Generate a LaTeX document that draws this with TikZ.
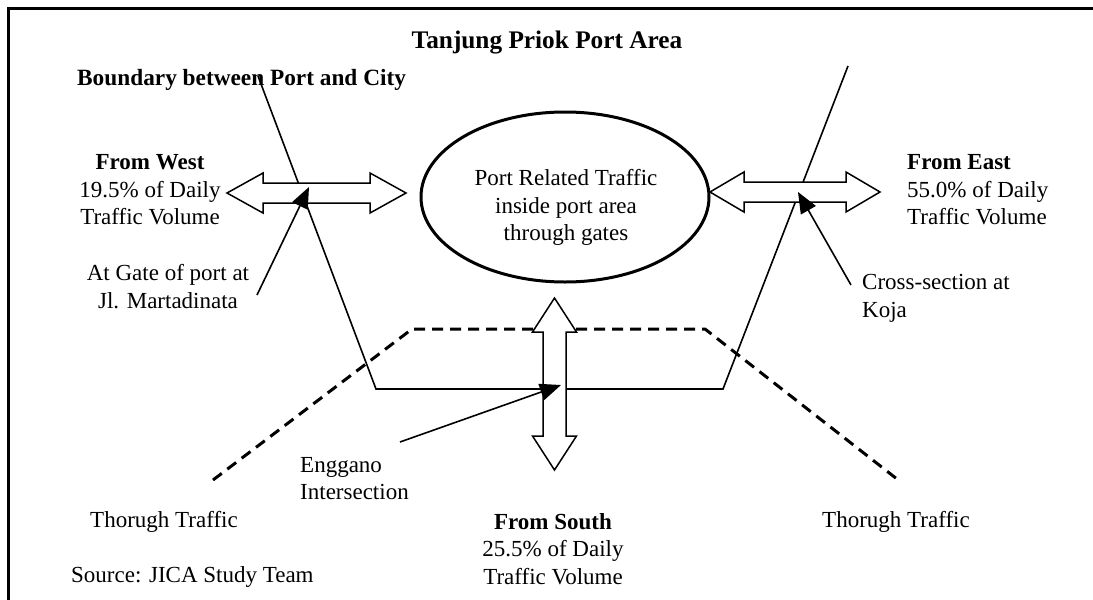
\documentclass[tikz,border=0pt]{standalone}
\usepackage{fontspec}
\setmainfont{Liberation Serif}
\usetikzlibrary{arrows.meta,shapes.geometric}
\begin{document}
\begin{tikzpicture}[x=1pt,y=-1pt,
  txt/.style={font=\fontsize{23}{27.5}\selectfont, inner sep=0pt, align=center},
  bold/.style={inner sep=0pt, font=\fontsize{23.3}{27.5}\selectfont\bfseries},
  road/.style={line width=1.6pt},
  trough/.style={line width=3pt, dash pattern=on 11pt off 7pt},
  dbl/.style={draw, fill=white, line width=1.5pt, line join=miter},
  pointer/.style={line width=1.6pt, -{Triangle[length=21pt,width=17pt]}},
]
\useasboundingbox (0,0) rectangle (1093,600);
% frame
\draw[line width=3pt] (8,600) -- (8,8) -- (1093,8);

% boundary / road lines
\coordinate (LB1) at (258,76);
\coordinate (LB2) at (376,389);
\coordinate (RB2) at (723,389);
\coordinate (RB1) at (848,66);
\draw[road] (LB1) -- (LB2) -- (RB2) -- (RB1);

% through traffic (dashed)
\coordinate (TL1) at (213,480);
\coordinate (TL2) at (412,329);
\coordinate (TR2) at (705,329);
\coordinate (TR1) at (897,479);
\draw[trough] (TL1) -- (TL2) -- (TR2) -- (TR1);

% port ellipse
\node[draw, ellipse, line width=3pt, minimum width=288pt, minimum height=170pt, inner sep=0pt] (port) at (565,197) {};
\node[txt] (porttext) at (566,207.5) {Port Related Traffic\\inside port area\\through gates};

% double arrows
\draw[dbl] (227,193) -- (263,173) -- (263,183) -- (370,183) -- (370,173) -- (406,193)
  -- (370,213) -- (370,203) -- (263,203) -- (263,213) -- cycle;
\draw[dbl] (710,192) -- (744,172) -- (744,182) -- (846,182) -- (846,172) -- (880,192)
  -- (846,212) -- (846,202) -- (744,202) -- (744,212) -- cycle;
\draw[dbl] (554.5,298) -- (576.5,332) -- (566,332) -- (566,436) -- (576.5,436) -- (554.5,470)
  -- (532.5,436) -- (543,436) -- (543,332) -- (532.5,332) -- cycle;

% texts
\node[bold, font=\fontsize{25.3}{28}\selectfont\bfseries] (title) at (547,43) {Tanjung Priok Port Area};
\node[bold, anchor=west] (bnd) at (77,80) {Boundary between Port and City};
\node[txt] (west) at (150,190) {\textbf{From West}\\19.5\% of Daily\\Traffic Volume};
\node[txt, align=left, anchor=west] (east) at (907,190) {\textbf{From East}\\55.0\% of Daily\\Traffic Volume};
\node[txt] (gate) at (168,286.5) {At Gate of port at\\Jl. Martadinata};
\node[txt, align=left, anchor=west] (koja) at (862,298.5) {Cross-section at\\Koja};
\node[txt, align=left, anchor=west] (engg) at (300,478.5) {Enggano\\Intersection};
\node[txt, anchor=west] (thl) at (90,522) {Thorugh Traffic};
\node[txt, anchor=west] (thr) at (822,522) {Thorugh Traffic};
\node[txt] (south) at (553,549) {\textbf{From South}\\25.5\% of Daily\\Traffic Volume};
\node[txt, anchor=west] (src) at (71,577) {Source: JICA Study Team};

% pointers
\coordinate (gp) at (257,295);
\coordinate (gt) at (309,187);
\draw[pointer] (gp) -- (gt);
\coordinate (kp) at (851,285);
\coordinate (kt) at (798,192);
\draw[pointer] (kp) -- (kt);
\coordinate (ep) at (400,442);
\coordinate (et) at (561,385);
\draw[pointer] (ep) -- (et);
\end{tikzpicture}
\end{document}
